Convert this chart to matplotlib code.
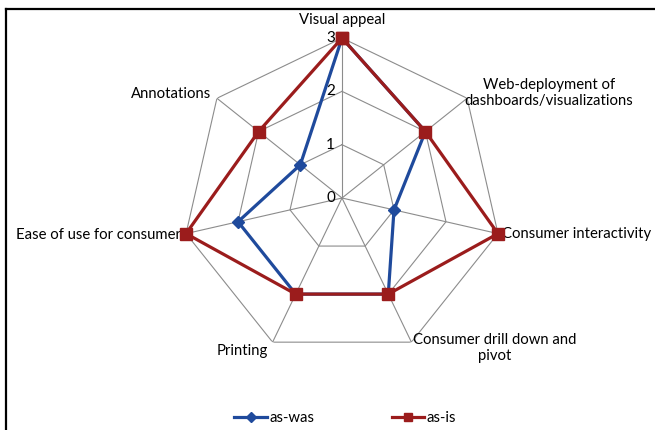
import numpy as np
import matplotlib.pyplot as plt
from matplotlib.lines import Line2D

# Radar chart data
categories = ['Visual appeal', 'Web-deployment of\ndashboards/visualizations',
              'Consumer interactivity', 'Consumer drill down and\npivot',
              'Printing', 'Ease of use for consumer', 'Annotations']
as_was = [3, 2, 1, 2, 2, 2, 1]
as_is = [3, 2, 3, 2, 2, 3, 2]
ticks = [0, 1, 2, 3]

blue = '#1F4A9C'
red = '#9B1C1C'
grid_col = '#8C8C8C'
fs = 10.7

plt.rcParams['font.family'] = ['Lato', 'DejaVu Sans']

fig = plt.figure(figsize=(6.55, 4.3), dpi=100)
ax = fig.add_axes([0.2779, 0.1674, 0.4885, 0.7442], projection='polar')
ax.set_theta_offset(np.pi / 2)
ax.set_theta_direction(-1)
ax.set_ylim(0, max(ticks))
ax.axis('off')

n = len(categories)
angles = np.arange(n) * 2 * np.pi / n
closed = np.append(angles, angles[0])

# polygon grid + spokes
for t in ticks[1:]:
    ax.plot(closed, [t] * (n + 1), color=grid_col, lw=0.8, zorder=1)
for a in angles:
    ax.plot([a, a], [0, max(ticks)], color=grid_col, lw=0.8, zorder=1)

# tick labels on the top spoke
for t in ticks:
    ax.annotate(str(t), (0, t), xytext=(-5, 0), textcoords='offset points',
                ha='right', va='center', fontsize=11)

# series
ax.plot(closed, as_was + as_was[:1], color=blue, lw=2.3, marker='D', ms=6.5,
        zorder=3, label='as-was', clip_on=False)
ax.plot(closed, as_is + as_is[:1], color=red, lw=2.3, marker='s', ms=8,
        zorder=4, label='as-is', clip_on=False)

# category labels
label_style = [
    ('center', 'bottom', (0, 8)),
    ('left', 'center', (-2, 4)),
    ('left', 'center', (3, 0)),
    ('left', 'center', (1, -4)),
    ('right', 'top', (-3, -1)),
    ('right', 'center', (-4, -1)),
    ('right', 'center', (-4, 3)),
]
for a, lab, (ha, va, off) in zip(angles, categories, label_style):
    ax.annotate(lab, (a, max(ticks)), xytext=off, textcoords='offset points',
                ha=ha, va=va, multialignment='center', fontsize=fs)

leg = fig.legend(loc='lower center', bbox_to_anchor=(0.527, -0.02), ncol=2,
                 frameon=False, fontsize=fs, columnspacing=5.2, handlelength=2.2,
                 handletextpad=0.15)
for h in leg.legend_handles:
    h.set_markersize(5.5)

# chart border (top and left edges visible)
fig.add_artist(Line2D([0.0085, 1], [0.978, 0.978], color='black', lw=1.6,
                      transform=fig.transFigure))
fig.add_artist(Line2D([0.0085, 0.0085], [0, 0.978], color='black', lw=1.6,
                      transform=fig.transFigure))

fig.savefig('out.png', dpi=100)
